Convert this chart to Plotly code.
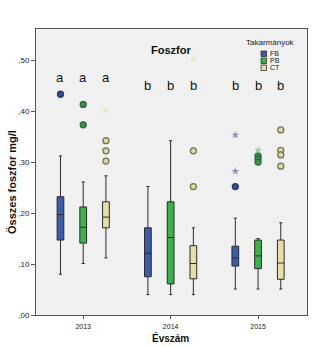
import plotly.graph_objects as go

# Total phosphorus (mg/l) by year and feed type
years = ["2013", "2014", "2015"]
feeds = ["FB", "PB", "CT"]

# Box statistics per feed, one value per year
lower = {"FB": [0.080, 0.040, 0.051], "PB": [0.101, 0.040, 0.051], "CT": [0.112, 0.040, 0.051]}
q1 = {"FB": [0.147, 0.075, 0.096], "PB": [0.141, 0.061, 0.091], "CT": [0.171, 0.071, 0.070]}
median = {"FB": [0.197, 0.121, 0.112], "PB": [0.172, 0.152, 0.116], "CT": [0.192, 0.101, 0.102]}
q3 = {"FB": [0.232, 0.171, 0.135], "PB": [0.212, 0.222, 0.147], "CT": [0.222, 0.136, 0.147]}
upper = {"FB": [0.312, 0.252, 0.190], "PB": [0.261, 0.342, 0.150], "CT": [0.273, 0.171, 0.181]}

# Outliers (circles) and extreme values (stars)
outliers = {
    "FB": [[0.433], [], [0.252]],
    "PB": [[0.413, 0.373], [], [0.312, 0.306, 0.300]],
    "CT": [[0.342, 0.322, 0.302], [0.322, 0.252], [0.363, 0.323, 0.314, 0.292]],
}
extremes = {
    "FB": [[], [], [0.353, 0.282]],
    "PB": [[], [], [0.323]],
    "CT": [[0.403], [0.502], []],
}

# Significance letters per year
letters = ["a", "b", "b"]

fill = {"FB": "#3E5BA9", "PB": "#3DB24B", "CT": "#E5DEA6"}
dot_fill = {"FB": "#34498F", "PB": "#3E8F4E", "CT": "#DCD8AE"}
dot_edge = {"FB": "#2A3A70", "PB": "#2E6B3A", "CT": "#77734C"}
star_col = {"FB": "#8C90B8", "PB": "#8FD494", "CT": "#EAE6C6"}

offset = {"FB": -0.26, "PB": 0.0, "CT": 0.26}
box_w = 0.077
FONT = "Liberation Sans, Arial"

fig = go.Figure()
for f in feeds:
    xs = [i + offset[f] for i in range(len(years))]
    fig.add_trace(go.Box(
        x=xs, q1=q1[f], median=median[f], q3=q3[f],
        lowerfence=lower[f], upperfence=upper[f],
        width=box_w, whiskerwidth=0.45, boxpoints=False,
        fillcolor=fill[f], line=dict(color="#2b2b2b", width=1),
        name=f, showlegend=False, hoverinfo="skip",
    ))
    ox, oy, sx, sy = [], [], [], []
    for i in range(len(years)):
        for v in outliers[f][i]:
            ox.append(i + offset[f]); oy.append(v)
        for v in extremes[f][i]:
            sx.append(i + offset[f]); sy.append(v)
    fig.add_trace(go.Scatter(
        x=ox, y=oy, mode="markers", showlegend=False, hoverinfo="skip",
        marker=dict(symbol="circle", size=6, color=dot_fill[f],
                    line=dict(color=dot_edge[f], width=1.3)),
    ))
    fig.add_trace(go.Scatter(
        x=sx, y=sy, mode="markers", showlegend=False, hoverinfo="skip",
        marker=dict(symbol="star", size=6, color=star_col[f], line=dict(width=0)),
    ))

annotations = []
# Letters above each box
for i, letter in enumerate(letters):
    ly = 0.466 if letter == "a" else 0.451
    for f in feeds:
        annotations.append(dict(
            x=i + offset[f], y=ly, xref="x", yref="y", text=letter,
            xanchor="center", yanchor="middle", showarrow=False,
            font=dict(family=FONT, size=13, color="#111"),
        ))

# Panel title
annotations.append(dict(
    x=1.0, y=0.52, xref="x", yref="y", text="<b>Foszfor</b>",
    xanchor="center", yanchor="middle", showarrow=False,
    font=dict(family=FONT, size=11, color="#111"),
))


def px_x(p):
    return (p - 36) / 271


def px_y(p):
    return (315 - p) / 286


def label(x, y, text, size, color="#111", angle=0, xanchor="center"):
    return dict(
        x=px_x(x), y=px_y(y), xref="paper", yref="paper", text=text,
        textangle=angle, xanchor=xanchor, yanchor="middle", showarrow=False,
        font=dict(family=FONT, size=size, color=color),
    )


# Axis titles
annotations.append(label(12, 182, "<b>Összes foszfor mg/l</b>", 11, angle=-90))
annotations.append(label(170, 338, "<b>Évszám</b>", 10))

# Legend: title, colour swatches and labels
annotations.append(label(270, 42.5, "Takarmányok", 8, color="#222"))
shapes = []
for k, f in enumerate(feeds):
    top = 51 + 7 * k
    shapes.append(dict(
        type="rect", xref="paper", yref="paper",
        x0=px_x(261), x1=px_x(266.5), y0=px_y(top + 5.5), y1=px_y(top),
        fillcolor=fill[f], line=dict(color="#333", width=0.8),
    ))
    annotations.append(label(267.5, top + 2.8, f, 7, color="#222", xanchor="left"))

fig.update_layout(
    width=336, height=346,
    margin=dict(l=36, r=29, t=29, b=31),
    paper_bgcolor="white", plot_bgcolor="#F0F0F0",
    annotations=annotations, shapes=shapes,
    xaxis=dict(
        range=[-0.54, 2.56], tickmode="array", tickvals=[0, 1, 2], ticktext=years,
        showgrid=False, zeroline=False, showline=True, mirror=True,
        linecolor="#555", linewidth=1, ticks="outside", ticklen=3, tickcolor="#555",
        ticklabelstandoff=2, automargin=False,
        tickfont=dict(family=FONT, size=7, color="#222"),
    ),
    yaxis=dict(
        range=[0, 0.561], tickmode="array",
        tickvals=[0, 0.1, 0.2, 0.3, 0.4, 0.5],
        ticktext=[",00", ",10", ",20", ",30", ",40", ",50"],
        showgrid=False, zeroline=False, showline=True, mirror=True,
        linecolor="#555", linewidth=1, ticks="outside", ticklen=4, tickcolor="#555",
        automargin=False,
        tickfont=dict(family=FONT, size=8, color="#222"),
    ),
)

fig.write_html("out.html")
